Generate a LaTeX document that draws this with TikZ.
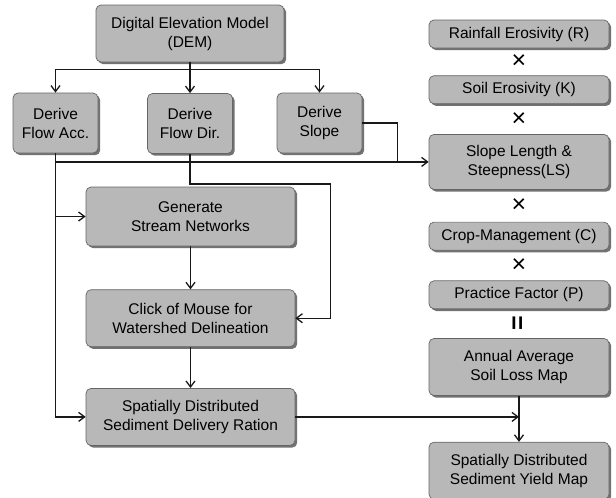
\documentclass[tikz,border=0pt]{standalone}
\usepackage{fontspec}
\setmainfont{Liberation Sans}
\usetikzlibrary{positioning, arrows.meta, shadows, calc}

\begin{document}
\begin{tikzpicture}[x=1pt, y=-1pt]
	\tikzset{
		>={Straight Barb[length=6pt, width=9pt, line width=1.3pt]},
		box/.style={draw=black!60, rounded corners=5pt, align=center, fill=black!28, line width=0.7pt,
			drop shadow={shadow xshift=2.2pt, shadow yshift=-2.2pt, fill=black!65, opacity=0.85},
			font=\fontsize{15.5}{19}\selectfont, inner sep=1pt},
		derivebox/.style={box, minimum width=85pt, minimum height=60pt},
		stepbox/.style={box, minimum width=209pt, minimum height=57pt},
		factorbox/.style={box, minimum width=180pt, minimum height=28pt},
		mapbox/.style={box, minimum width=180pt, minimum height=57pt},
		op/.style={font=\fontsize{25}{25}\selectfont, inner sep=0pt},
		link/.style={draw=black!90, line width=1.4pt}
	}
	\useasboundingbox (0,0) rectangle (616,498);
	
	% DEM and derived layers
	\node[box, minimum width=188pt, minimum height=57pt] (dem) at (190,33.5) {Digital Elevation Model\\(DEM)};
	\node[derivebox] (acc) at (55.5,123) {Derive\\Flow Acc.};
	\node[derivebox] (dir) at (190,123.5) {Derive\\Flow Dir.};
	\node[derivebox] (slope) at (319.5,123) {Derive\\Slope};
	
	% Watershed steps
	\node[stepbox, minimum height=59pt] (gen) at (190.5,216.5) {Generate\\Stream Networks};
	\node[stepbox, below=43pt of gen] (click) {Click of Mouse for\\Watershed Delineation};
	\node[stepbox, below=41pt of click] (sdr) {Spatially Distributed\\Sediment Delivery Ration};
	
	% USLE factors
	\node[factorbox] (rain) at (519,34) {Rainfall Erosivity (R)};
	\node[factorbox, below=27pt of rain] (soil) {Soil Erosivity (K)};
	\node[mapbox, minimum height=55pt, below=30pt of soil] (ls) {Slope Length \&\\Steepness(LS)};
	\node[factorbox, below=32pt of ls] (crop) {Crop-Management (C)};
	\node[factorbox, below=30pt of crop] (prac) {Practice Factor (P)};
	\node[mapbox, below=29pt of prac] (loss) {Annual Average\\Soil Loss Map};
	\node[mapbox, below=46pt of loss] (yield) {Spatially Distributed\\Sediment Yield Map};
	
	% Operators
	\node[op] (times1) at ($(rain.south)!0.5!(soil.north)$) {×};
	\node[op] (times2) at ($(soil.south)!0.5!(ls.north)$) {×};
	\node[op] (times3) at ($(ls.south)!0.5!(crop.north)$) {×};
	\node[op] (times4) at ($(crop.south)!0.5!(prac.north)$) {×};
	\node[op, rotate=90] (equal) at ($(prac.south)!0.5!(loss.north)$) {\textbf{=}};
	
	% DEM to derive boxes
	\coordinate (split) at ($(dem.south)+(0,7)$);
	\draw[link, ->] (dem.south) -- (dir.north);
	\draw[link, ->] (split) -| (acc.north);
	\draw[link, ->] (split) -| (slope.north);
	
	% Flow accumulation feeds three boxes
	\draw[link, ->] (acc.south) |- (sdr.west);
	\draw[link, ->] (acc.south |- gen.west) -- (gen.west);
	\draw[link, ->] (acc.south |- ls.west) -- (ls.west);
	
	% Slope joins the LS line
	\coordinate (join) at ($(ls.west)+(-31,0)$);
	\draw[link] (slope.east) -| (join);
	
	% Flow direction to delineation
	\coordinate (dirturn) at ($(click.east)+(35,0)$);
	\draw[link, ->] (dir.south) -- ++(0,30) -| (dirturn) -- (click.east);
	
	\draw[link, ->] (gen) -- (click);
	\draw[link, ->] (click) -- (sdr);
	\draw[link, ->] (sdr.east) -- (sdr.east -| loss.south);
	\draw[link, ->] (loss) -- (yield);
	
\end{tikzpicture}
\end{document}
